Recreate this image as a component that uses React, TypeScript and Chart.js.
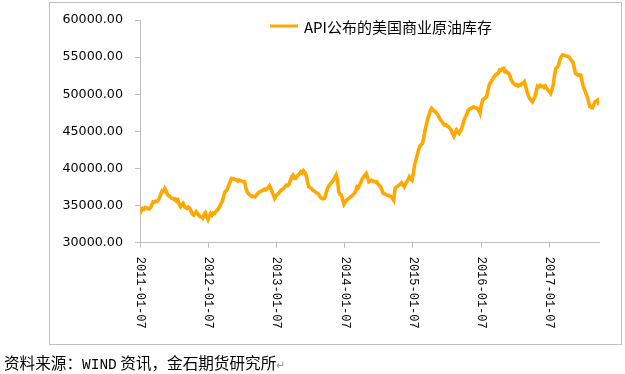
import React, { useEffect, useRef } from "react";
import { Chart, registerables } from "chart.js";

Chart.register(...registerables);

const SERIES_NAME = "API公布的美国商业原油库存";
const START_DATE = "2011-01-07";
const TICK_LABELS = ["2011-01-07", "2012-01-07", "2013-01-07", "2014-01-07", "2015-01-07", "2016-01-07", "2017-01-07"];
const Y_MIN = 30000;
const Y_MAX = 60000;
const Y_STEP = 5000;
const SOURCE_TEXT_A = "资料来源：";
const SOURCE_TEXT_B = "WIND";
const SOURCE_TEXT_C = " 资讯，金石期货研究所";

// weekly values (万桶), one row per year
const W2011 = [
  33950, 34300, 34600, 34500, 34750, 34700, 34600, 34550, 34700, 35100,
  35500, 35450, 35600, 35550, 35740, 36100, 36600, 37000, 36900, 37300,
  37000, 36500, 36300, 36200, 36000, 35960, 35800, 35900, 35600, 35740,
  35200, 34840, 35100, 35290, 34900, 34700, 34620, 34800, 34620, 34300,
  33900, 33720, 33900, 34160, 33900, 33700, 33500, 33490, 33300, 33800,
  34030, 33500,
];
const W2012 = [
  33140, 33600, 33940, 33700, 34000, 33940, 34200, 34400, 34620, 34900,
  35290, 35600, 36300, 36860, 37000, 37310, 37800, 38300, 38660, 38600,
  38570, 38500, 38450, 38300, 38430, 38350, 38300, 38200, 38210, 37300,
  36860, 36600, 36410, 36300, 36200, 36250, 36180, 36400, 36640, 36800,
  36900, 37000, 37090, 37200, 37100, 37300, 37400, 37670, 37300, 36860,
  36400, 35960,
];
const W2013 = [
  36300, 36500, 36640, 36900, 37100, 37200, 37310, 37600, 37760, 37700,
  37850, 38400, 38900, 39110, 38700, 38660, 38900, 39110, 39300, 39560,
  39400, 39700, 39500, 39110, 38300, 37530, 37400, 37310, 37100, 37000,
  36860, 36700, 36640, 36400, 36100, 35960, 35900, 35960, 36500, 37100,
  37530, 37800, 38000, 38210, 38500, 38800, 39110, 38430, 36860, 36500,
  36410, 35800,
];
const W2014 = [
  35200, 35500, 35740, 35900, 36000, 36180, 36300, 36500, 36640, 37000,
  37530, 37400, 37760, 38200, 38600, 38880, 39100, 39330, 38800, 38210,
  38300, 38430, 38300, 38250, 38200, 38210, 37900, 37700, 37530, 37100,
  36640, 36600, 36500, 36400, 36410, 36300, 36180, 36000, 35740, 37310,
  37500, 37600, 37760, 37900, 38070, 37800, 37530, 37900, 38210, 38500,
  38880, 38600,
];
const W2015 = [
  38430, 39330, 40500, 41130, 41800, 42470, 43000, 43200, 43380, 44200,
  45170, 45900, 46700, 47190, 47800, 48100, 47900, 47700, 47640, 47400,
  47190, 46800, 46500, 46290, 46000, 45850, 45900, 45700, 45620, 45400,
  45170, 44700, 44360, 44800, 45170, 44900, 44720, 45000, 45400, 46000,
  46600, 46970, 47400, 47870, 48000, 48100, 48200, 48310, 48200, 48150,
  48100, 47800,
];
const W2016 = [
  47420, 48500, 49220, 49400, 49500, 49660, 50400, 51240, 51600, 51800,
  52140, 52400, 52600, 52720, 52900, 53260, 53200, 53400, 53490, 53030,
  53100, 52900, 52810, 52400, 51910, 51600, 51400, 51240, 51300, 51100,
  51240, 51200, 51460, 51500, 51690, 51000, 50340, 49800, 49400, 49220,
  48990, 49300, 49660, 50400, 51100, 51000, 51200, 51020, 51100, 50900,
  51100, 50800,
];
const W2017 = [
  50560, 50400, 50120, 50600, 51240, 52600, 53490, 53600, 53930, 54600,
  55000, 55280, 55300, 55200, 55150, 55100, 55050, 54800, 54500, 54380,
  53600, 52810, 52700, 52580, 52600, 52580, 51800, 51010, 50600, 50100,
  49660, 49000, 48310, 48250, 48180, 48600, 48990, 49100, 49220, 48540,
];

const VALUES = [...W2011, ...W2012, ...W2013, ...W2014, ...W2015, ...W2016, ...W2017];

const DAY_MS = 86400000;
const dayOf = (d: string) => (Date.parse(d) - Date.parse(START_DATE)) / DAY_MS;

const LINE_COLOR = "#FFA800";
const AXIS_COLOR = "#BDBDBD";

const decorPlugin = {
  id: "decor",
  beforeDraw(chart: any) {
    const ctx = chart.ctx;
    ctx.save();
    ctx.strokeStyle = "#BFBFBF";
    ctx.lineWidth = 1;
    ctx.strokeRect(49.5, 2.5, 572, 342);
    ctx.restore();
  },
  afterDraw(chart: any) {
    const ctx = chart.ctx;
    const xs = chart.scales.x;
    const area = chart.chartArea;
    ctx.save();
    ctx.fillStyle = "#000000";
    ctx.font = '12px "Liberation Mono"';
    ctx.textAlign = "left";
    ctx.textBaseline = "middle";
    TICK_LABELS.forEach((l) => {
      const px = xs.getPixelForValue(dayOf(l));
      ctx.save();
      ctx.translate(px, xs.top + 14);
      ctx.rotate(Math.PI / 2);
      ctx.fillText(l, 0, 0);
      ctx.restore();
    });
    const ds = chart.data.datasets[0];
    const lx = area.left + 130;
    const ly = area.top + 6;
    ctx.strokeStyle = ds.borderColor;
    ctx.lineWidth = 3;
    ctx.beginPath();
    ctx.moveTo(lx, ly);
    ctx.lineTo(lx + 28, ly);
    ctx.stroke();
    ctx.fillStyle = "#000000";
    ctx.font = '15px "Noto Sans CJK SC"';
    ctx.textBaseline = "middle";
    ctx.fillText(ds.label, lx + 34, ly + 1);
    ctx.restore();
  },
};

export default function App() {
  const ref = useRef<HTMLCanvasElement | null>(null);

  useEffect(() => {
    if (!ref.current) return;
    const tickDays = TICK_LABELS.map(dayOf);
    const data = VALUES.map((v, i) => ({ x: i * 7, y: v }));
    const chart = new Chart(ref.current, {
      type: "line",
      data: {
        datasets: [
          {
            label: SERIES_NAME,
            data,
            borderColor: LINE_COLOR,
            backgroundColor: LINE_COLOR,
            borderWidth: 3.6,
            pointRadius: 0,
            tension: 0,
            fill: false,
          },
        ],
      },
      options: {
        responsive: false,
        animation: false,
        devicePixelRatio: 1,
        layout: { padding: { left: 0, right: 26, top: 20, bottom: 0 } },
        plugins: { legend: { display: false }, tooltip: { enabled: false } },
        scales: {
          x: {
            type: "linear",
            min: 0,
            max: (VALUES.length - 1) * 7,
            afterBuildTicks: (scale: any) => {
              scale.ticks = tickDays.map((v) => ({ value: v }));
            },
            afterFit: (scale: any) => {
              scale.height = 131.3;
            },
            ticks: { display: false },
            grid: { drawOnChartArea: false, drawTicks: true, tickLength: 5, color: AXIS_COLOR },
            border: { display: true, color: AXIS_COLOR },
          },
          y: {
            min: Y_MIN,
            max: Y_MAX,
            afterFit: (scale: any) => {
              scale.width = 140;
            },
            ticks: {
              stepSize: Y_STEP,
              padding: 12,
              color: "#000000",
              font: { family: '"DejaVu Sans"', size: 12.7 },
              callback: (v: any) => Number(v).toFixed(2),
            },
            grid: { drawOnChartArea: false, drawTicks: true, tickLength: 5, color: AXIS_COLOR },
            border: { display: true, color: AXIS_COLOR },
          },
        },
      },
      plugins: [decorPlugin],
    });
    return () => chart.destroy();
  }, []);

  return (
    <div style={{ position: "absolute", left: 0, top: 0, width: 625, height: 374, overflow: "hidden", background: "#fff" }}>
      <canvas ref={ref} width={625} height={374} style={{ position: "absolute", left: 0, top: 0 }} />
      <div
        style={{
          position: "absolute",
          left: 4,
          top: 352,
          fontFamily: '"Noto Sans CJK SC"',
          fontSize: 15.6,
          lineHeight: "20px",
          color: "#000",
          whiteSpace: "nowrap",
        }}
      >
        {SOURCE_TEXT_A}
        <span style={{ fontFamily: '"Liberation Mono"', fontSize: 14.5 }}>{SOURCE_TEXT_B}</span>
        {SOURCE_TEXT_C}
        <span style={{ color: "#9a9a9a", fontSize: 11 }}>↵</span>
      </div>
    </div>
  );
}
